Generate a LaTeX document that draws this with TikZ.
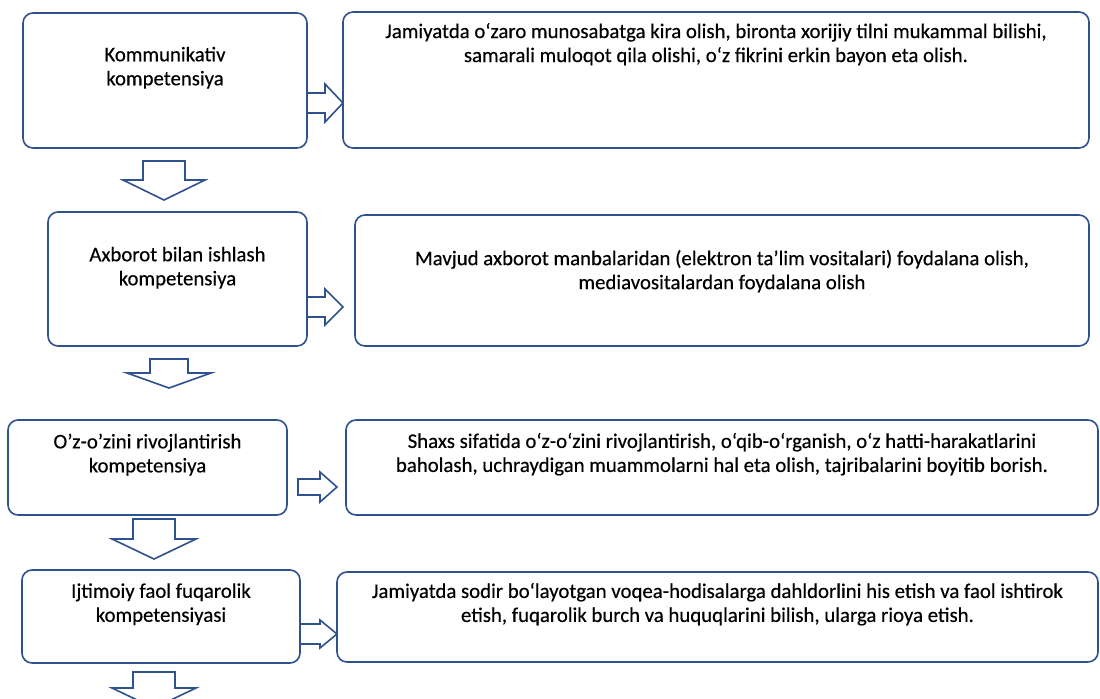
\documentclass[tikz,border=0pt]{standalone}
\usepackage{fontspec}
\setmainfont{Carlito}
\newfontfamily\boxfont{Carlito}[FakeBold=0.35]
\usetikzlibrary{positioning}
\definecolor{FrameBlue}{RGB}{47,82,143}
\tikzset{
	box/.style={draw=FrameBlue, line width=0.8pt, rounded corners=5pt, inner sep=0pt},
	txt/.style={align=center, font=\boxfont\fontsize{10.4}{12}\selectfont, inner sep=0pt},
	blockarr/.style={draw=FrameBlue, line width=0.8pt, fill=white, line join=miter}
}
% down block arrow: centre x, top, neck, tip, shaft half width, head half width
\newcommand\downarr[6]{%
	\draw[blockarr] (#1-#5,#2) -- (#1+#5,#2) -- (#1+#5,#3) -- (#1+#6,#3) -- (#1,#4)
		-- (#1-#6,#3) -- (#1-#5,#3) -- cycle;}
% right block arrow: start x, neck, tip, centre y, shaft half height, head half height
\newcommand\rightarr[6]{%
	\draw[blockarr] (#1,#4-#5) -- (#2,#4-#5) -- (#2,#4-#6) -- (#3,#4) -- (#2,#4+#6)
		-- (#2,#4+#5) -- (#1,#4+#5) -- cycle;}

\begin{document}
\begin{tikzpicture}[x=0.5pt, y=-0.5pt]
	\useasboundingbox[fill=white] (0,0) rectangle (1100,698);
	\clip (0,0) rectangle (1100,698);

	% left column
	\node[box, minimum width=142pt, minimum height=67.5pt] (kom) at (165,80.5) {};
	\node[txt] (komtxt) at ([yshift=-27.75pt]kom.north) {Kommunikativ\\kompetensiya};
	\node[box, minimum width=129.5pt, minimum height=67pt] (axb) at (177.5,279) {};
	\node[txt] (axbtxt) at ([yshift=-28.25pt]axb.north) {Axborot bilan ishlash\\kompetensiya};
	\node[box, minimum width=139.5pt, minimum height=47.5pt] (rivoj) at (147.5,467.5) {};
	\node[txt] (rivojtxt) at ([yshift=-17.75pt]rivoj.north) {O’z-o’zini rivojlantirish\\kompetensiya};
	\node[box, minimum width=139pt, minimum height=46.5pt] (fuq) at (161,616.5) {};
	\node[txt] (fuqtxt) at ([yshift=-17.5pt]fuq.north) {Ijtimoiy faol fuqarolik\\kompetensiyasi};

	% right column
	\node[box, minimum width=373pt, minimum height=68pt] (komd) at (716,80) {};
	\node[txt] (komdtxt) at ([yshift=-16.5pt]komd.north)
		{Jamiyatda o‘zaro munosabatga kira olish, bironta xorijiy tilni mukammal bilishi,\\
		samarali muloqot qila olishi, o‘z fikrini erkin bayon eta olish.};
	\node[box, minimum width=367pt, minimum height=65.5pt] (axbd) at (722,280.5) {};
	\node[txt] (axbdtxt) at ([yshift=-28.5pt]axbd.north)
		{Mavjud axborot manbalaridan (elektron ta’lim vositalari) foydalana olish,\\
		mediavositalardan foydalana olish};
	\node[box, minimum width=376pt, minimum height=47.5pt] (rivojd) at (722,467.5) {};
	\node[txt] (rivojdtxt) at ([yshift=-17.5pt]rivojd.north)
		{Shaxs sifatida o‘z-o‘zini rivojlantirish, o‘qib-o‘rganish, o‘z hatti-harakatlarini\\
		baholash, uchraydigan muammolarni hal eta olish, tajribalarini boyitib borish.};
	\node[box, minimum width=380.5pt, minimum height=45pt] (fuqd) at (717.5,617) {};
	\node[txt] (fuqdtxt) at ([yshift=-16.5pt]fuqd.north)
		{Jamiyatda sodir bo‘layotgan voqea-hodisalarga dahldorlini his etish va faol ishtirok\\
		etish, fuqarolik burch va huquqlarini bilish, ularga rioya etish.};

	% block arrows
	\downarr{164}{161}{180}{200}{21}{41}
	\downarr{169}{359}{373}{388}{19}{42}
	\downarr{154}{519}{539}{559}{21}{42}
	\downarr{154}{672}{688}{708}{21}{42}
	\rightarr{307}{325}{343}{103}{10}{19}
	\rightarr{307}{325}{343}{307}{10}{18}
	\rightarr{298}{320}{337}{487}{8}{15}
	\rightarr{300}{320}{337}{634}{10}{14}
\end{tikzpicture}
\end{document}
